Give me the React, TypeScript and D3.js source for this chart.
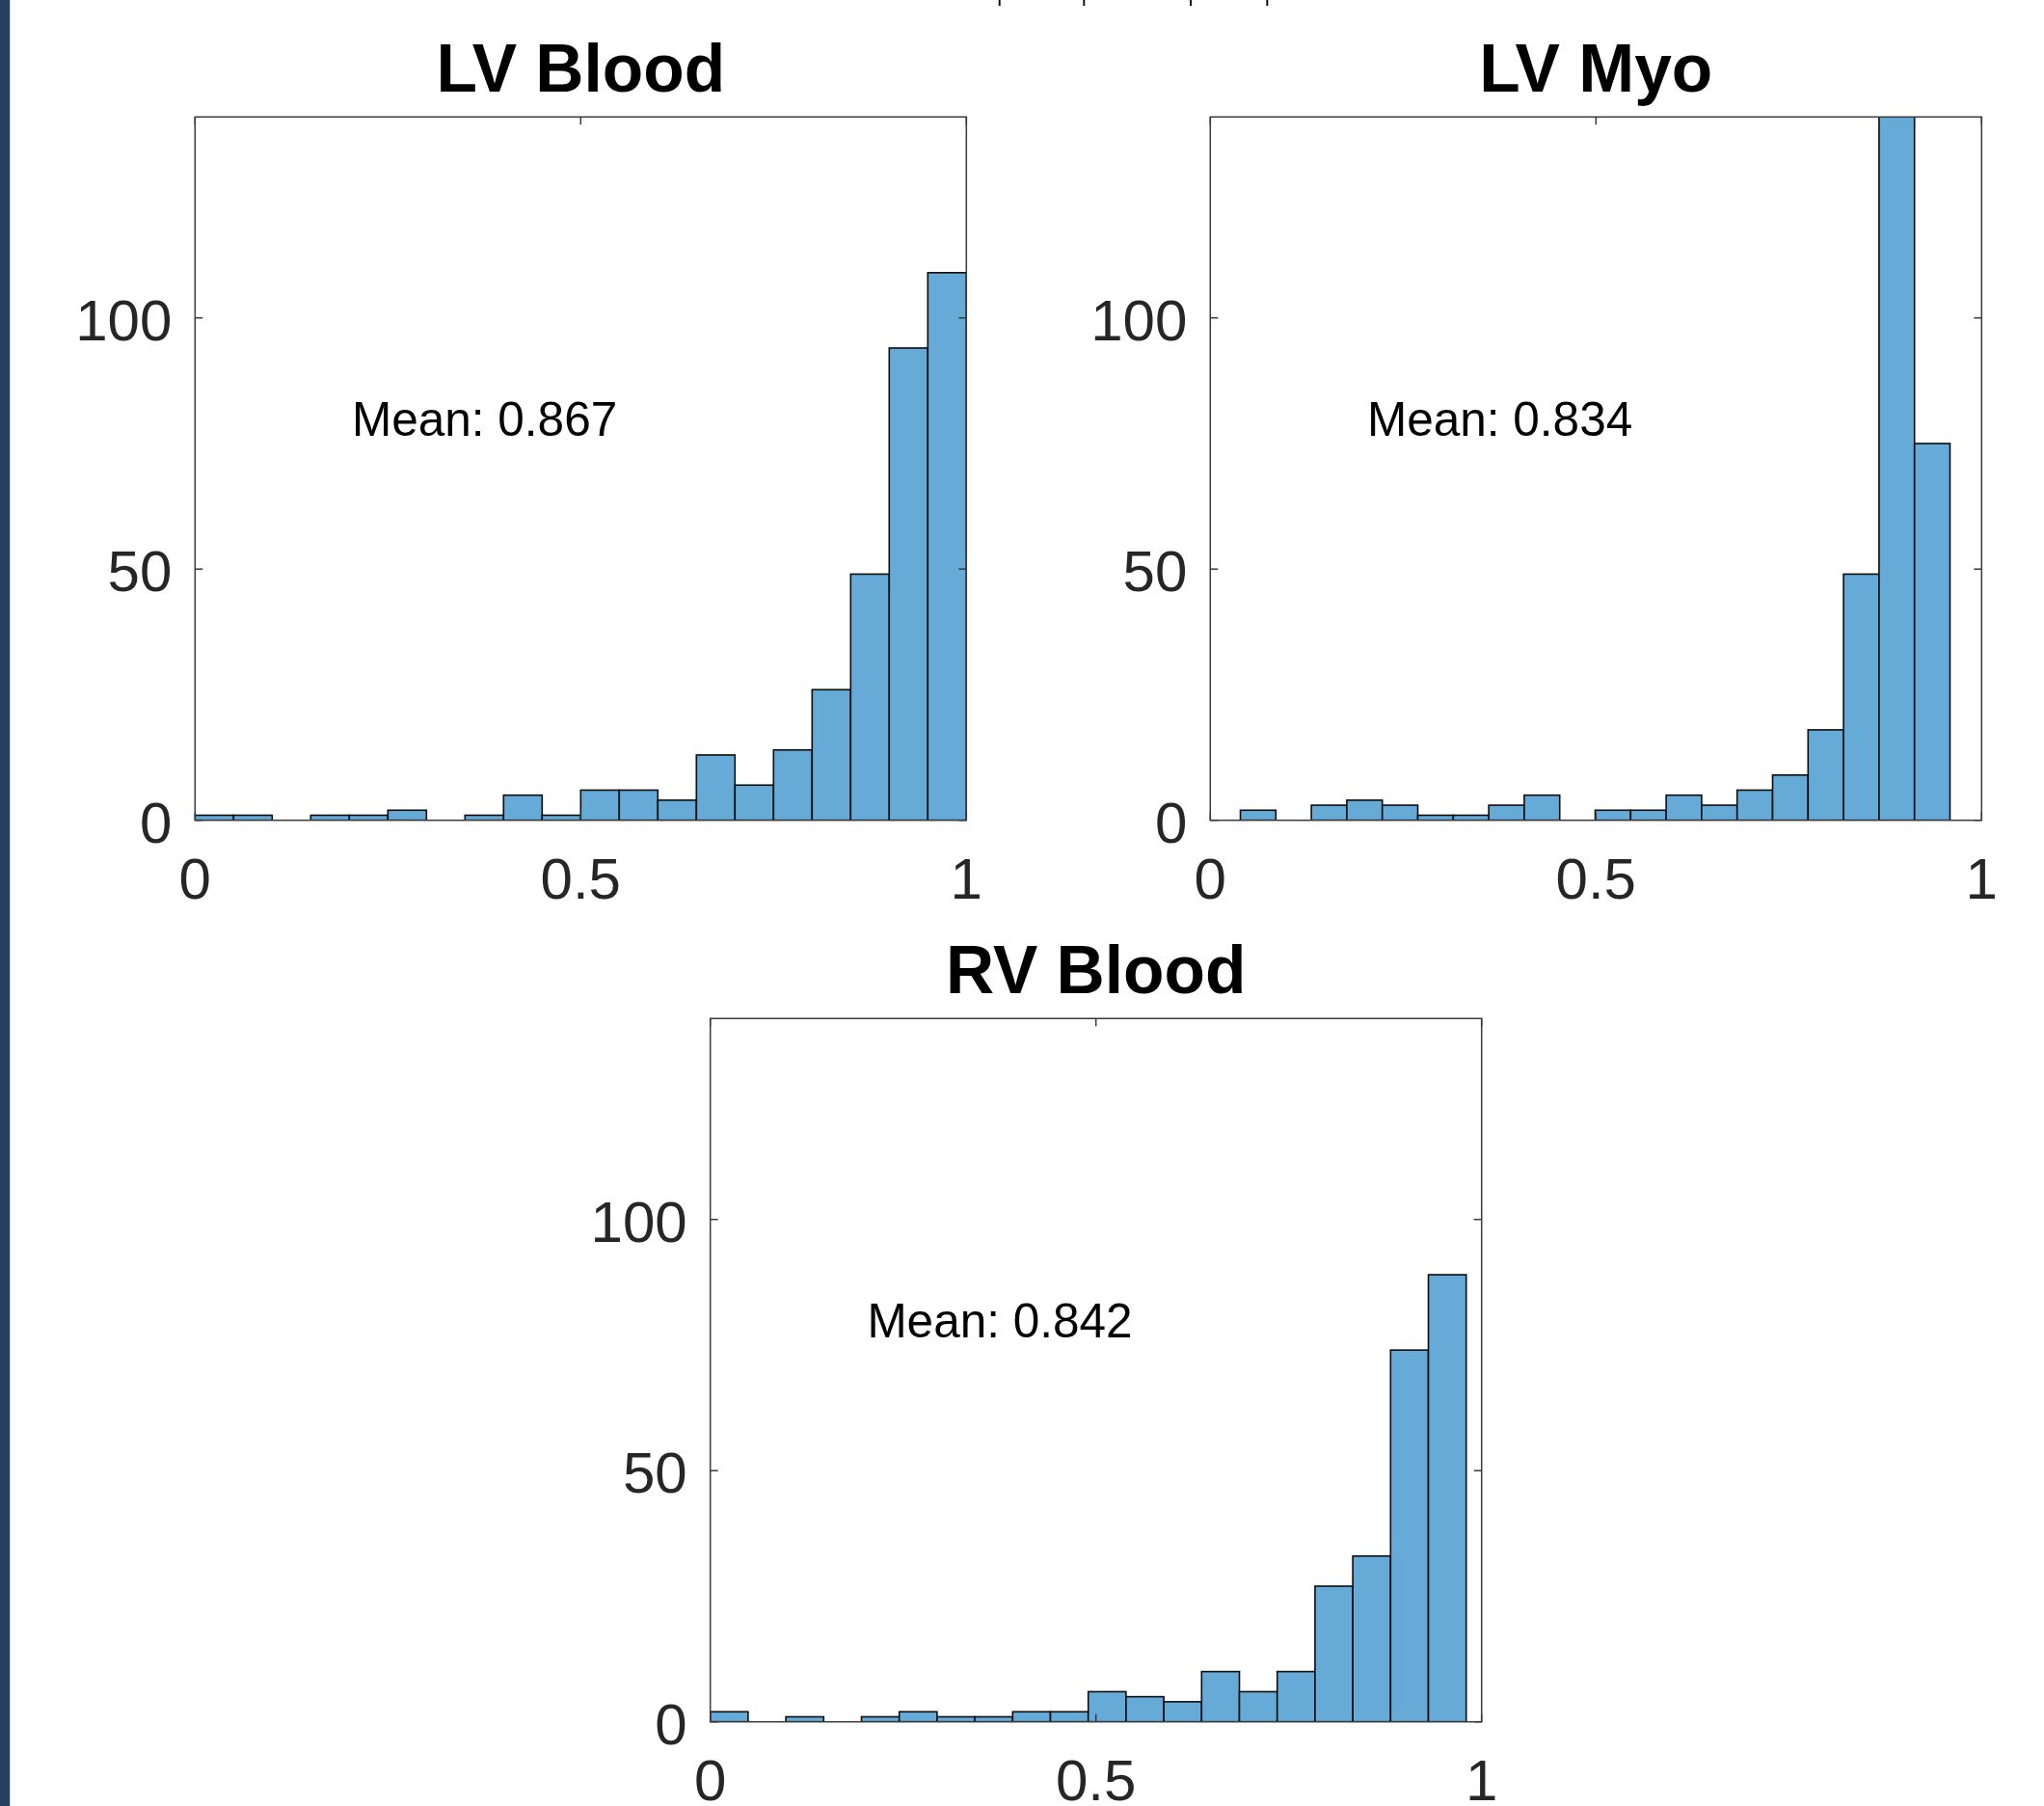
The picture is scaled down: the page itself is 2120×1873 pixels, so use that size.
import React from 'react';
import * as d3 from 'd3';

// histogram counts per bin
const lvBloodCounts = [1, 1, 0, 1, 1, 2, 0, 1, 5, 1, 6, 6, 4, 13, 7, 14, 26, 49, 94, 109];
const lvMyoCounts = [2, 0, 3, 4, 3, 1, 1, 3, 5, 0, 2, 2, 5, 3, 6, 9, 18, 49, 152, 75];
const rvBloodCounts = [2, 0, 1, 0, 1, 2, 1, 1, 2, 2, 6, 5, 4, 10, 6, 10, 27, 33, 74, 89];

const titles = ['LV Blood', 'LV Myo', 'RV Blood'];
const meanLabels = ['Mean: 0.867', 'Mean: 0.834', 'Mean: 0.842'];
const binStarts = [0, 0.039, 0];
const binWidths = [0.05, 0.046, 0.049];

const xTicks = [0, 0.5, 1];
const yTicks = [0, 50, 100];
const xDomain = [0, 1];
const yDomain = [0, 140];

const W = 800;
const H = 729.4;
const origins = [
  [202.3, 121.3],
  [1255.3, 121.3],
  [736.7, 1056.3],
];

const FONT = '"Liberation Sans", Arial, Helvetica, sans-serif';
const AXIS = '#3a3a3a';
const TEXT = '#262626';
const BAR = '#66aad7';

const Histogram = ({ idx, counts }) => {
  const x = d3.scaleLinear().domain(xDomain).range([0, W]);
  const y = d3.scaleLinear().domain(yDomain).range([H, 0]);
  const bins = counts.map((c, i) => ({
    x0: binStarts[idx] + i * binWidths[idx],
    x1: binStarts[idx] + (i + 1) * binWidths[idx],
    c,
  }));
  const [ox, oy] = origins[idx];
  const clipId = `clip-${idx}`;

  return (
    <g transform={`translate(${ox},${oy})`}>
      <defs>
        <clipPath id={clipId}>
          <rect x={0} y={0} width={W} height={H} />
        </clipPath>
      </defs>
      <g clipPath={`url(#${clipId})`}>
        {bins.filter(b => b.c > 0).map((b, i) => (
          <rect key={i}
                x={x(b.x0)}
                y={y(b.c)}
                width={x(b.x1) - x(b.x0)}
                height={y(0) - y(b.c)}
                fill={BAR}
                stroke="#0d0d0d"
                strokeWidth={1.6} />
        ))}
      </g>
      <rect x={0} y={0} width={W} height={H} fill="none" stroke={AXIS} strokeWidth={1.5} />
      {xTicks.map((t, i) => (
        <g key={'x' + i}>
          <line x1={x(t)} x2={x(t)} y1={H} y2={H - 8} stroke={AXIS} strokeWidth={1.5} />
          <line x1={x(t)} x2={x(t)} y1={0} y2={8} stroke={AXIS} strokeWidth={1.5} />
          <text x={x(t)} y={H + 81} textAnchor="middle" fontSize={60} fontFamily={FONT} fill={TEXT}>{t}</text>
        </g>
      ))}
      {yTicks.map((t, i) => (
        <g key={'y' + i}>
          <line x1={0} x2={8} y1={y(t)} y2={y(t)} stroke={AXIS} strokeWidth={1.5} />
          <line x1={W} x2={W - 8} y1={y(t)} y2={y(t)} stroke={AXIS} strokeWidth={1.5} />
          <text x={-24} y={y(t) + 23} textAnchor="end" fontSize={60} fontFamily={FONT} fill={TEXT}>{t}</text>
        </g>
      ))}
      <text x={W / 2} y={-26.3} textAnchor="middle" fontSize={69.5} fontWeight="bold" fontFamily={FONT} fill="#000">
        {titles[idx]}
      </text>
      <text x={x(0.2) + 2.7} y={y(80) + 18} fontSize={49.5} fontFamily={FONT} fill="#000">
        {meanLabels[idx]}
      </text>
    </g>
  );
};

// leftover tick marks cut off at the top edge of the screenshot
const topStubs = [1036.7, 1124.3, 1235, 1314.3];

const App = () => {
  return (
    <svg xmlns="http://www.w3.org/2000/svg" width={2120} height={1873}
         style={{ position: 'absolute', left: 0, top: 0, background: '#fff' }}>
      <rect x={0} y={0} width={2120} height={1873} fill="#fff" />
      <rect x={0} y={0} width={10} height={1873} fill="#253f5f" />
      <rect x={10} y={0} width={1} height={1873} fill="#c9cdd3" />
      {topStubs.map((sx, i) => (
        <line key={i} x1={sx} x2={sx} y1={0} y2={6} stroke="#111" strokeWidth={2} />
      ))}
      <Histogram idx={0} counts={lvBloodCounts} />
      <Histogram idx={1} counts={lvMyoCounts} />
      <Histogram idx={2} counts={rvBloodCounts} />
    </svg>
  );
};

export default App;
